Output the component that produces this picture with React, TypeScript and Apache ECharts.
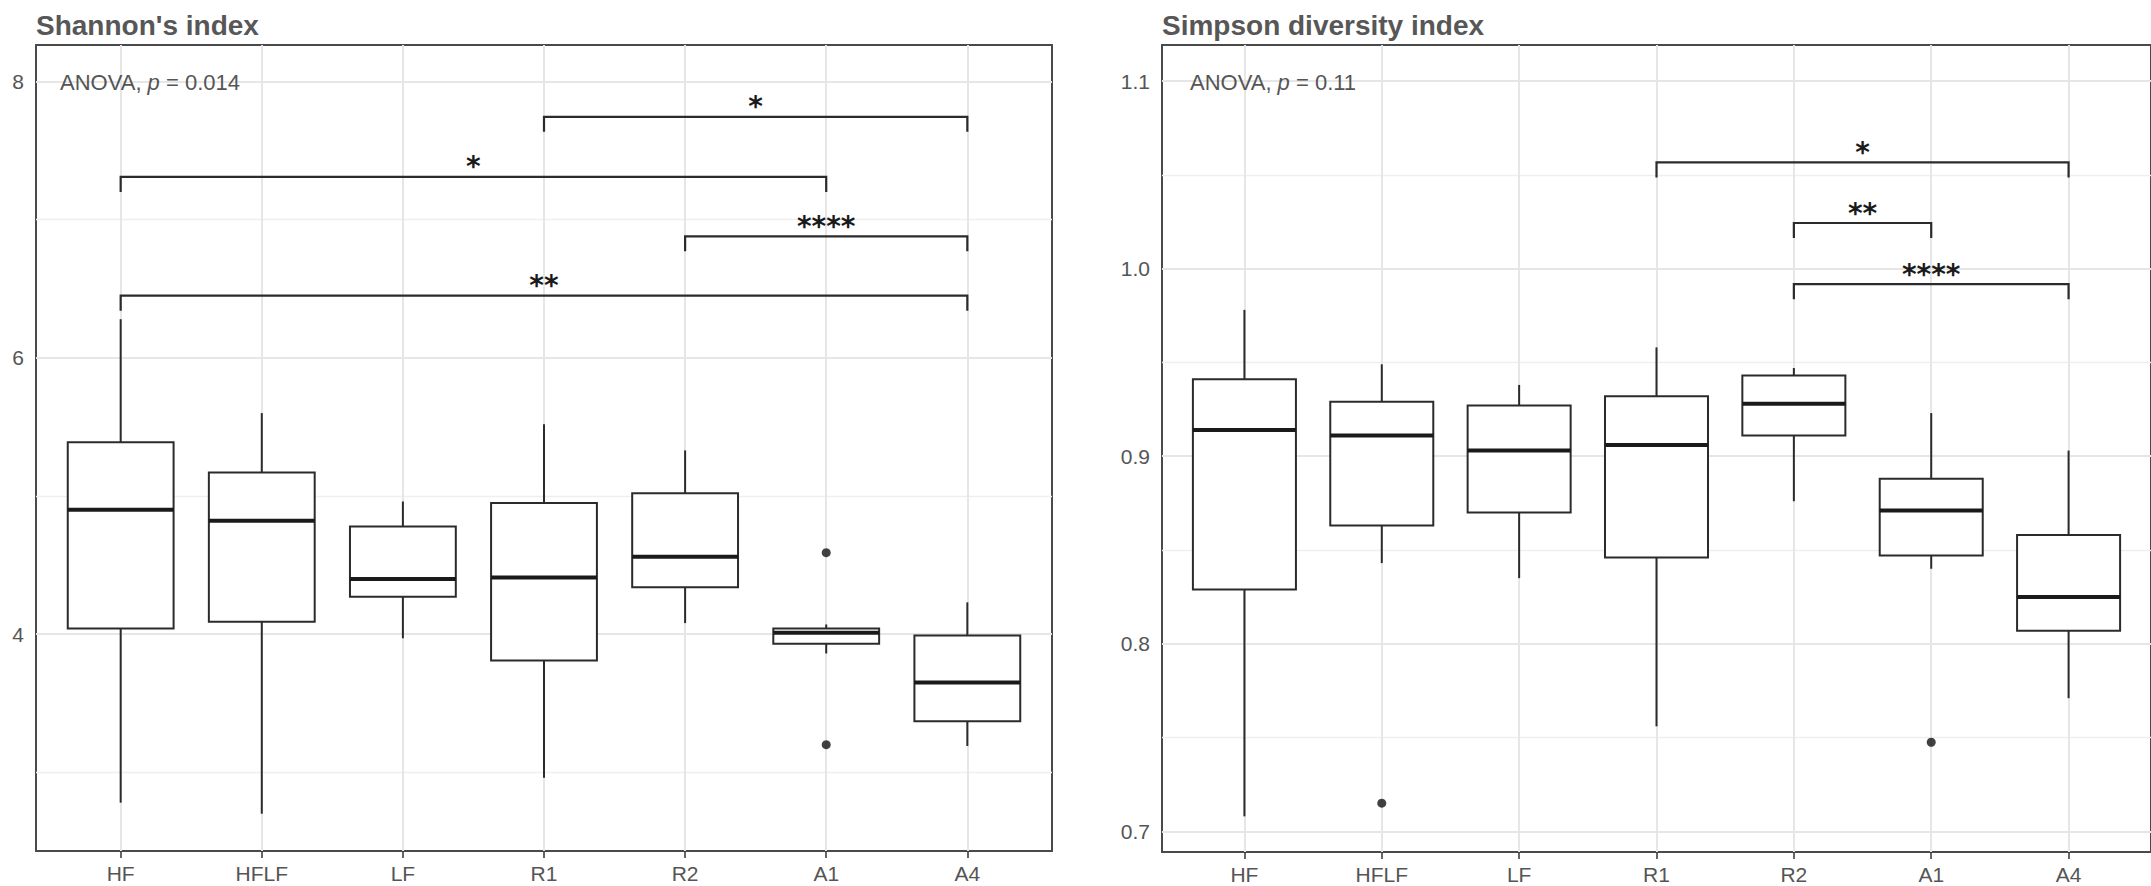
import React, { useEffect, useRef } from 'react';
import * as echarts from 'echarts';

// Sample groups along the x axis
const groups = ['HF', 'HFLF', 'LF', 'R1', 'R2', 'A1', 'A4'];

// Shannon's index: [lower whisker, Q1, median, Q3, upper whisker] per group
const shannonBoxes = [
  [2.78, 4.04, 4.9, 5.39, 6.28],
  [2.7, 4.09, 4.82, 5.17, 5.6],
  [3.97, 4.27, 4.4, 4.78, 4.96],
  [2.96, 3.81, 4.41, 4.95, 5.52],
  [4.08, 4.34, 4.56, 5.02, 5.33],
  [3.86, 3.93, 4.01, 4.04, 4.07],
  [3.19, 3.37, 3.65, 3.99, 4.23],
];
// [group index, value]
const shannonOutliers = [
  [5, 4.59],
  [5, 3.2],
];
// [from group, to group, bracket height, significance]
const shannonComparisons: [number, number, number, string][] = [
  [3, 6, 7.745, '*'],
  [0, 5, 7.31, '*'],
  [4, 6, 6.88, '****'],
  [0, 6, 6.45, '**'],
];
const shannonTicks = [4, 6, 8];
const shannonMinorGrid = [3, 5, 7];

// Simpson diversity index: [lower whisker, Q1, median, Q3, upper whisker]
const simpsonBoxes = [
  [0.708, 0.829, 0.914, 0.941, 0.978],
  [0.843, 0.863, 0.911, 0.929, 0.949],
  [0.835, 0.87, 0.903, 0.927, 0.938],
  [0.756, 0.846, 0.906, 0.932, 0.958],
  [0.876, 0.911, 0.928, 0.943, 0.947],
  [0.84, 0.847, 0.871, 0.888, 0.923],
  [0.771, 0.807, 0.825, 0.858, 0.903],
];
const simpsonOutliers = [
  [1, 0.715],
  [5, 0.7475],
];
const simpsonComparisons: [number, number, number, string][] = [
  [3, 6, 1.0566, '*'],
  [4, 5, 1.0243, '**'],
  [4, 6, 0.9917, '****'],
];
const simpsonTicks = [0.7, 0.8, 0.9, 1.0, 1.1];
const simpsonMinorGrid = [0.75, 0.85, 0.95, 1.05];

const FONT = '"Liberation Sans", Arial, Helvetica, sans-serif';
const INK = '#2b2b2b';
const LABEL = '#555555';

interface PanelConfig {
  title: string;
  anova: string;
  boxes: number[][];
  outliers: number[][];
  comparisons: [number, number, number, string][];
  ticks: number[];
  minorGrid: number[];
  yMin: number;
  yMax: number;
  fmt: (v: number) => string;
  left: number;
  width: number;
  top: number;
  height: number;
}

const panels: PanelConfig[] = [
  {
    title: "Shannon's index",
    anova: '0.014',
    boxes: shannonBoxes,
    outliers: shannonOutliers,
    comparisons: shannonComparisons,
    ticks: shannonTicks,
    minorGrid: shannonMinorGrid,
    yMin: 2.43,
    yMax: 8.265,
    fmt: (v) => String(v),
    left: 36,
    width: 1016,
    top: 45,
    height: 806,
  },
  {
    title: 'Simpson diversity index',
    anova: '0.11',
    boxes: simpsonBoxes,
    outliers: simpsonOutliers,
    comparisons: simpsonComparisons,
    ticks: simpsonTicks,
    minorGrid: simpsonMinorGrid,
    yMin: 0.689,
    yMax: 1.1192,
    fmt: (v) => v.toFixed(1),
    left: 1162,
    width: 1003,
    top: 45,
    height: 807,
  },
];

const positions = groups.map((_, k) => k);
const majorLine = { color: '#e6e6e6', width: 2, type: 'solid' };
const minorLine = { color: '#efefef', width: 1.4, type: 'solid' };

function buildOption() {
  const grid: any[] = [];
  const xAxis: any[] = [];
  const yAxis: any[] = [];
  const series: any[] = [];
  const title: any[] = [];
  const graphic: any[] = [];

  panels.forEach((p, i) => {
    grid.push({
      left: p.left,
      top: p.top,
      width: p.width,
      height: p.height,
      show: true,
      backgroundColor: '#ffffff',
      borderColor: '#4a4a4a',
      borderWidth: 2,
    });
    xAxis.push({
      type: 'value',
      gridIndex: i,
      min: -0.6,
      max: 6.6,
      axisLine: { show: false },
      splitLine: { show: false },
      axisTick: {
        show: true,
        customValues: positions,
        length: 7,
        lineStyle: { color: '#333', width: 1.5 },
      },
      axisLabel: {
        customValues: positions,
        formatter: (v: number) => groups[Math.round(v)],
        fontSize: 21,
        fontFamily: FONT,
        color: LABEL,
        margin: 12,
      },
    });
    yAxis.push({
      type: 'value',
      gridIndex: i,
      min: p.yMin,
      max: p.yMax,
      axisLine: { show: false },
      splitLine: { show: false },
      axisTick: {
        show: true,
        customValues: p.ticks,
        length: 7,
        lineStyle: { color: '#333', width: 1.5 },
      },
      axisLabel: {
        customValues: p.ticks,
        formatter: p.fmt,
        fontSize: 21,
        fontFamily: FONT,
        color: LABEL,
        margin: 12,
      },
    });

    // panel grid lines
    series.push({
      type: 'scatter',
      xAxisIndex: i,
      yAxisIndex: i,
      data: [],
      silent: true,
      z: 1,
      markLine: {
        silent: true,
        symbol: 'none',
        z: 1,
        label: { show: false },
        emphasis: { disabled: true },
        data: [
          ...p.minorGrid.map((v) => ({ yAxis: v, lineStyle: minorLine })),
          ...p.ticks.map((v) => ({ yAxis: v, lineStyle: majorLine })),
          ...positions.map((v) => ({ xAxis: v, lineStyle: majorLine })),
        ],
      },
    });

    // boxes and whiskers
    series.push({
      type: 'custom',
      xAxisIndex: i,
      yAxisIndex: i,
      z: 2,
      silent: true,
      data: p.boxes.map((b, k) => [k, ...b]),
      encode: { x: 0, y: [1, 2, 3, 4, 5] },
      renderItem: (params: any, api: any) => {
        const x = api.value(0);
        const lo = api.coord([x, api.value(1)]);
        const q1 = api.coord([x, api.value(2)]);
        const med = api.coord([x, api.value(3)]);
        const q3 = api.coord([x, api.value(4)]);
        const hi = api.coord([x, api.value(5)]);
        const half = api.size([1, 0])[0] * 0.375;
        const stroke = { stroke: INK, lineWidth: 2 };
        return {
          type: 'group',
          children: [
            { type: 'line', shape: { x1: lo[0], y1: lo[1], x2: q1[0], y2: q1[1] }, style: stroke },
            { type: 'line', shape: { x1: q3[0], y1: q3[1], x2: hi[0], y2: hi[1] }, style: stroke },
            {
              type: 'rect',
              shape: { x: q3[0] - half, y: q3[1], width: half * 2, height: q1[1] - q3[1] },
              style: { fill: '#ffffff', stroke: INK, lineWidth: 2 },
            },
            {
              type: 'line',
              shape: { x1: med[0] - half, y1: med[1], x2: med[0] + half, y2: med[1] },
              style: { stroke: '#1a1a1a', lineWidth: 4 },
            },
          ],
        };
      },
    });

    // outlying points
    series.push({
      type: 'scatter',
      xAxisIndex: i,
      yAxisIndex: i,
      z: 3,
      silent: true,
      symbol: 'circle',
      symbolSize: 9,
      itemStyle: { color: '#111' },
      data: p.outliers,
    });

    // pairwise comparison brackets
    series.push({
      type: 'custom',
      xAxisIndex: i,
      yAxisIndex: i,
      z: 3,
      silent: true,
      data: p.comparisons.map((c) => [c[0], c[1], c[2]]),
      encode: { x: [0, 1], y: 2 },
      renderItem: (params: any, api: any) => {
        const a = api.coord([api.value(0), api.value(2)]);
        const b = api.coord([api.value(1), api.value(2)]);
        const tip = 15;
        const label = p.comparisons[params.dataIndex][3];
        return {
          type: 'group',
          children: [
            {
              type: 'polyline',
              shape: {
                points: [
                  [a[0], a[1] + tip],
                  [a[0], a[1]],
                  [b[0], b[1]],
                  [b[0], b[1] + tip],
                ],
              },
              style: { stroke: INK, lineWidth: 2.2, fill: 'none' },
            },
            {
              type: 'text',
              style: {
                text: label,
                x: (a[0] + b[0]) / 2,
                y: a[1] - 10,
                fill: '#1a1a1a',
                fontSize: 28,
                fontWeight: 'bold',
                fontFamily: '"DejaVu Sans", sans-serif',
                align: 'center',
                verticalAlign: 'middle',
              },
            },
          ],
        };
      },
    });

    title.push({
      text: p.title,
      left: p.left,
      top: 11,
      padding: 0,
      textStyle: { fontSize: 28, fontWeight: 'bold', color: '#575757', fontFamily: FONT },
    });

    graphic.push({
      type: 'text',
      x: p.left + 24 + (i === 1 ? 4 : 0),
      y: 82,
      z: 10,
      style: {
        text: `ANOVA, {i|p} = ${p.anova}`,
        fill: LABEL,
        fontSize: 22,
        fontFamily: FONT,
        verticalAlign: 'middle',
        rich: {
          i: { fontStyle: 'italic', fontSize: 22, fontFamily: FONT, fill: LABEL, color: LABEL },
        },
      },
    });
  });

  return { animation: false, backgroundColor: '#ffffff', title, grid, xAxis, yAxis, series, graphic };
}

export default function App() {
  const ref = useRef<HTMLDivElement>(null);
  useEffect(() => {
    if (!ref.current) return;
    const chart = echarts.init(ref.current, undefined, { renderer: 'svg' });
    chart.setOption(buildOption() as any);
    return () => chart.dispose();
  }, []);
  return (
    <div
      ref={ref}
      style={{ position: 'absolute', left: 0, top: 0, width: 2151, height: 886, background: '#fff' }}
    />
  );
}
